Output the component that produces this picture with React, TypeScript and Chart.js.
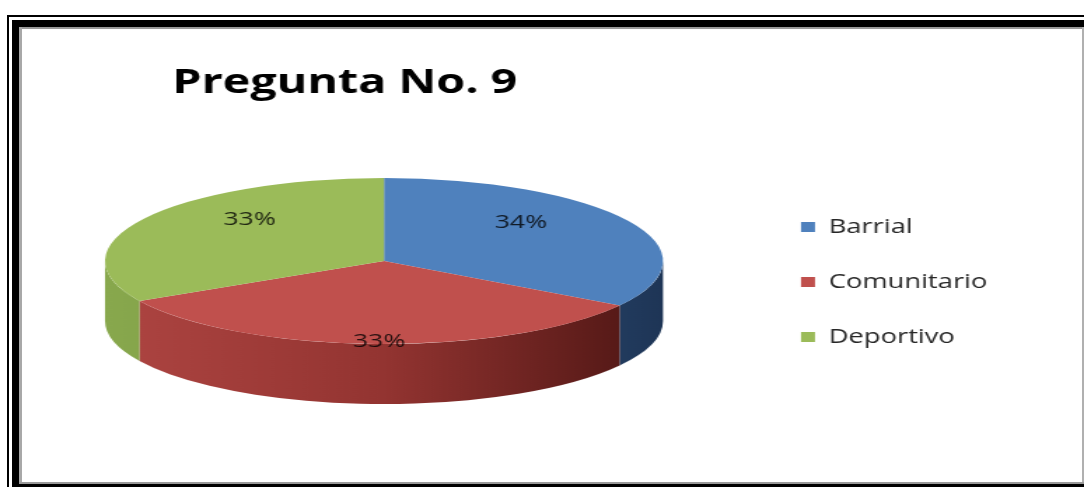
import React, { useEffect, useRef } from 'react';
import { Chart, registerables } from 'chart.js';

Chart.register(...registerables);

// ---------- data ----------
const TITLE = 'Pregunta No. 9';
const categories = ['Barrial', 'Comunitario', 'Deportivo'];
const values = [34, 33, 33];
const topColors = ['#4F81BD', '#C0504D', '#9BBB59'];
// side shading: [left, middle, right]
const sideColors = [
  ['#456FA3', '#345A88', '#1E3556'],
  ['#AE4542', '#933431', '#4C1513'],
  ['#88A84D', '#769540', '#4A6024'],
];

// ---------- layout constants ----------
const PAGE_W = 1084;
const PAGE_H = 487;
const STRETCH = 1.4;
const CANVAS_W = Math.round(PAGE_W / STRETCH);
const SX = PAGE_W / CANVAS_W;
const PIE = { cx: 384 / SX, cy: 261, rx: 279 / SX, ry: 83, depth: 60 };
const LABEL_FX = 0.56;
const LABEL_FY = 0.97;

function drawSide(ctx: CanvasRenderingContext2D, a: number, b: number, i: number) {
  const { cx, cy, rx, ry, depth } = PIE;
  const g = ctx.createLinearGradient(cx - rx, 0, cx + rx, 0);
  g.addColorStop(0, sideColors[i][0]);
  g.addColorStop(0.5, sideColors[i][1]);
  g.addColorStop(1, sideColors[i][2]);
  ctx.beginPath();
  ctx.ellipse(cx, cy, rx, ry, 0, a, b, false);
  ctx.lineTo(cx + rx * Math.cos(b), cy + ry * Math.sin(b) + depth);
  ctx.ellipse(cx, cy + depth, rx, ry, 0, b, a, true);
  ctx.closePath();
  ctx.fillStyle = g;
  ctx.fill();
}

const pie3d = {
  id: 'pie3d',
  beforeDatasetsDraw(chart: any) {
    const arcs = chart.getDatasetMeta(0).data;
    const ctx = chart.ctx as CanvasRenderingContext2D;
    ctx.save();
    if (!arcs.length) return;
    const TAU = Math.PI * 2;
    arcs.forEach((arc: any, i: number) => {
      for (let k = -1; k <= 1; k++) {
        const a = Math.max(arc.startAngle + k * TAU, 0);
        const b = Math.min(arc.endAngle + k * TAU, Math.PI);
        if (b > a) drawSide(ctx, a, b, i);
      }
    });
    const R = arcs[0].outerRadius;
    ctx.translate(PIE.cx, PIE.cy);
    ctx.scale(PIE.rx / R, PIE.ry / R);
    ctx.translate(-arcs[0].x, -arcs[0].y);
  },
  afterDatasetsDraw(chart: any) {
    const ctx = chart.ctx as CanvasRenderingContext2D;
    ctx.restore();
    const arcs = chart.getDatasetMeta(0).data;
    const data = chart.data.datasets[0].data as number[];
    const total = data.reduce((s, v) => s + v, 0);
    ctx.save();
    ctx.font = '19px "Open Sans"';
    ctx.textAlign = 'center';
    ctx.textBaseline = 'middle';
    ctx.fillStyle = 'rgba(0,0,0,0.8)';
    arcs.forEach((arc: any, i: number) => {
      const mid = (arc.startAngle + arc.endAngle) / 2;
      const x = PIE.cx + PIE.rx * LABEL_FX * Math.cos(mid);
      const y = PIE.cy + PIE.ry * LABEL_FY * Math.sin(mid);
      ctx.fillText(Math.round((data[i] / total) * 100) + '%', x, y);
    });
    ctx.restore();
  },
};

function Frame() {
  const box = (s: React.CSSProperties) => <div style={{ position: 'absolute', ...s }} />;
  return (
    <>
      {box({ left: 7, top: 15, width: PAGE_W - 7, height: 2, background: '#000' })}
      {box({ left: 7, top: 15, width: 2, height: PAGE_H - 15, background: '#000' })}
      {box({ left: 12, top: 20, width: PAGE_W - 12, height: 7, background: '#000' })}
      {box({ left: 12, top: 20, width: 7, height: PAGE_H - 20, background: '#000' })}
      {box({ left: 12, top: 484, width: PAGE_W - 12, height: 3, background: '#000' })}
      {box({ left: 19, top: 27, width: PAGE_W - 19, height: 2, background: '#9a9a9a' })}
      {box({ left: 19, top: 27, width: 3, height: 457, background: '#a8a8a8' })}
      {box({ left: 1082, top: 27, width: 2, height: 457, background: '#b0b0b0' })}
      {box({ left: 19, top: 482, width: PAGE_W - 19, height: 2, background: '#9a9a9a' })}
    </>
  );
}

export default function App() {
  const ref = useRef<HTMLCanvasElement | null>(null);
  useEffect(() => {
    if (!ref.current) return;
    const chart = new Chart(ref.current, {
      type: 'pie',
      data: {
        labels: categories,
        datasets: [
          {
            data: values,
            backgroundColor: topColors,
            borderWidth: 0,
            radius: 100,
            clip: false,
          } as any,
        ],
      },
      options: {
        responsive: false,
        animation: false,
        events: [],
        layout: { padding: { left: 123, top: 64, right: 59, bottom: 27 } },
        plugins: {
          title: {
            display: true,
            text: TITLE,
            align: 'start',
            color: '#000',
            font: { family: 'Open Sans', size: 33.3, weight: 'bold', lineHeight: 1.2 },
            padding: { top: 0, bottom: 0 },
          },
          legend: {
            position: 'right',
            align: 'center',
            fullSize: false,
            labels: {
              boxWidth: 10,
              boxHeight: 10,
              padding: 35.5,
              color: '#262626',
              font: { family: 'Open Sans', size: 19.5 },
            },
          },
          tooltip: { enabled: false },
        },
      } as any,
      plugins: [pie3d],
    });
    return () => chart.destroy();
  }, []);

  return (
    <div
      style={{
        position: 'absolute',
        left: 0,
        top: 0,
        width: PAGE_W,
        height: PAGE_H,
        background: '#fff',
        overflow: 'hidden',
      }}
    >
      <canvas
        ref={ref}
        width={CANVAS_W}
        height={PAGE_H}
        style={{
          position: 'absolute',
          left: 0,
          top: 0,
          width: CANVAS_W,
          height: PAGE_H,
          transform: `scaleX(${SX})`,
          transformOrigin: '0 0',
        }}
      />
      <Frame />
    </div>
  );
}
